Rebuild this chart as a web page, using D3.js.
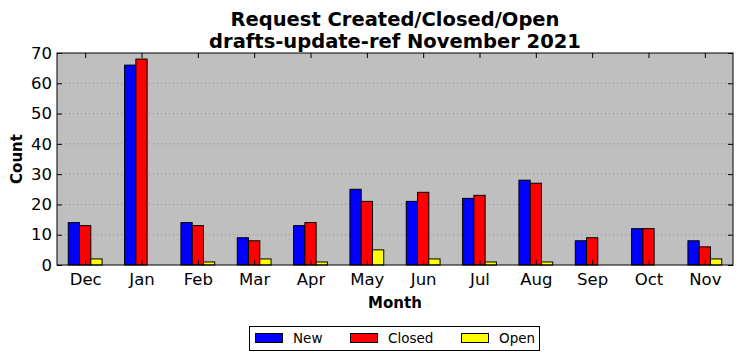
<!DOCTYPE html>
<html><head><meta charset="utf-8">
<script src="https://cdn.jsdelivr.net/npm/d3@7"></script>
<style>body{margin:0;background:#fff}svg{display:block}</style>
</head><body>
<script>
const months = ["Dec","Jan","Feb","Mar","Apr","May","Jun","Jul","Aug","Sep","Oct","Nov"];
const newVals = [14,66,14,9,13,25,21,22,28,8,12,8];
const closedVals = [13,68,13,8,14,21,24,23,27,9,12,6];
const openVals = [2,0,1,2,1,5,2,1,1,0,0,2];
const seriesNames = ["New","Closed","Open"];
const seriesColors = ["#0000ff","#ff0000","#ffff00"];
const yTicks = [0,10,20,30,40,50,60,70];

const W = 742, H = 361;
const m = {l:57, r:9, t:53, b:96};
const pw = W - m.l - m.r, ph = H - m.t - m.b;
const font = "DejaVu Sans, sans-serif";

const svg = d3.select("body").append("svg").attr("width", W).attr("height", H);
const g = svg.append("g").attr("transform", `translate(${m.l},${m.t})`);

const x = d3.scaleLinear().domain([-0.5, 11.5]).range([0, pw]);
const y = d3.scaleLinear().domain([0, 70]).range([ph, 0]);

g.append("rect").attr("width", pw).attr("height", ph).attr("fill", "#bfbfbf");

// grid
g.selectAll(".grid").data(yTicks.slice(1, -1)).enter().append("line")
  .attr("x1", 0).attr("x2", pw).attr("y1", d => y(d)).attr("y2", d => y(d))
  .attr("stroke", "#808080").attr("stroke-width", 0.8).attr("stroke-dasharray", "1,3");

const series = [newVals, closedVals, openVals];
const offsets = [-0.3, -0.1, 0.1];
series.forEach((vals, si) => {
  g.selectAll(".bar" + si).data(vals).enter().append("rect")
    .attr("x", (d, i) => x(i + offsets[si]))
    .attr("width", x(0.2) - x(0))
    .attr("y", d => y(d))
    .attr("height", d => y(0) - y(d))
    .attr("fill", seriesColors[si])
    .attr("stroke", "#000").attr("stroke-width", 1);
});

// axes
const xAxisB = d3.axisBottom(x).tickValues(d3.range(12)).tickFormat(i => months[i]).tickSizeInner(-5).tickSizeOuter(0).tickPadding(8);
const xAxisT = d3.axisTop(x).tickValues(d3.range(12)).tickFormat("").tickSizeInner(-5).tickSizeOuter(0);
const yAxisL = d3.axisLeft(y).tickValues(yTicks).tickSizeInner(-5).tickSizeOuter(0).tickPadding(5);
const yAxisR = d3.axisRight(y).tickValues(yTicks).tickFormat("").tickSizeInner(-5).tickSizeOuter(0);

function style(sel) {
  sel.select(".domain").remove();
  sel.selectAll("line").attr("stroke", "#000");
  sel.selectAll("text").attr("font-family", font).attr("font-size", 16.5).attr("fill", "#000");
}
g.append("g").attr("transform", `translate(0,${ph})`).call(xAxisB).call(style);
g.append("g").call(xAxisT).call(style);
g.append("g").call(yAxisL).call(style);
g.append("g").attr("transform", `translate(${pw},0)`).call(yAxisR).call(style);

g.append("rect").attr("width", pw).attr("height", ph).attr("fill", "none").attr("stroke", "#000").attr("stroke-width", 1);

// titles
const cx = m.l + pw / 2;
svg.append("text").attr("x", cx).attr("y", 26).attr("text-anchor", "middle")
  .attr("font-family", font).attr("font-weight", "bold").attr("font-size", 19.5).text("Request Created/Closed/Open");
svg.append("text").attr("x", cx).attr("y", 48).attr("text-anchor", "middle")
  .attr("font-family", font).attr("font-weight", "bold").attr("font-size", 19.5).text("drafts-update-ref November 2021");
svg.append("text").attr("x", cx).attr("y", 308).attr("text-anchor", "middle")
  .attr("font-family", font).attr("font-weight", "bold").attr("font-size", 15).text("Month");
svg.append("text").attr("transform", `translate(22,${m.t + ph / 2}) rotate(-90)`).attr("text-anchor", "middle")
  .attr("font-family", font).attr("font-weight", "bold").attr("font-size", 15).text("Count");

// legend
const lg = svg.append("g");
lg.append("rect").attr("x", 249.5).attr("y", 326.5).attr("width", 290).attr("height", 24)
  .attr("fill", "#fff").attr("stroke", "#000").attr("stroke-width", 1);
const lx = [255, 350, 461];
seriesNames.forEach((n, i) => {
  lg.append("rect").attr("x", lx[i] + 0.5).attr("y", 333.5).attr("width", 27).attr("height", 9)
    .attr("fill", seriesColors[i]).attr("stroke", "#000").attr("stroke-width", 1);
  lg.append("text").attr("x", lx[i] + 38).attr("y", 343).attr("font-family", font).attr("font-size", 13.5).text(n);
});
</script>
</body></html>
